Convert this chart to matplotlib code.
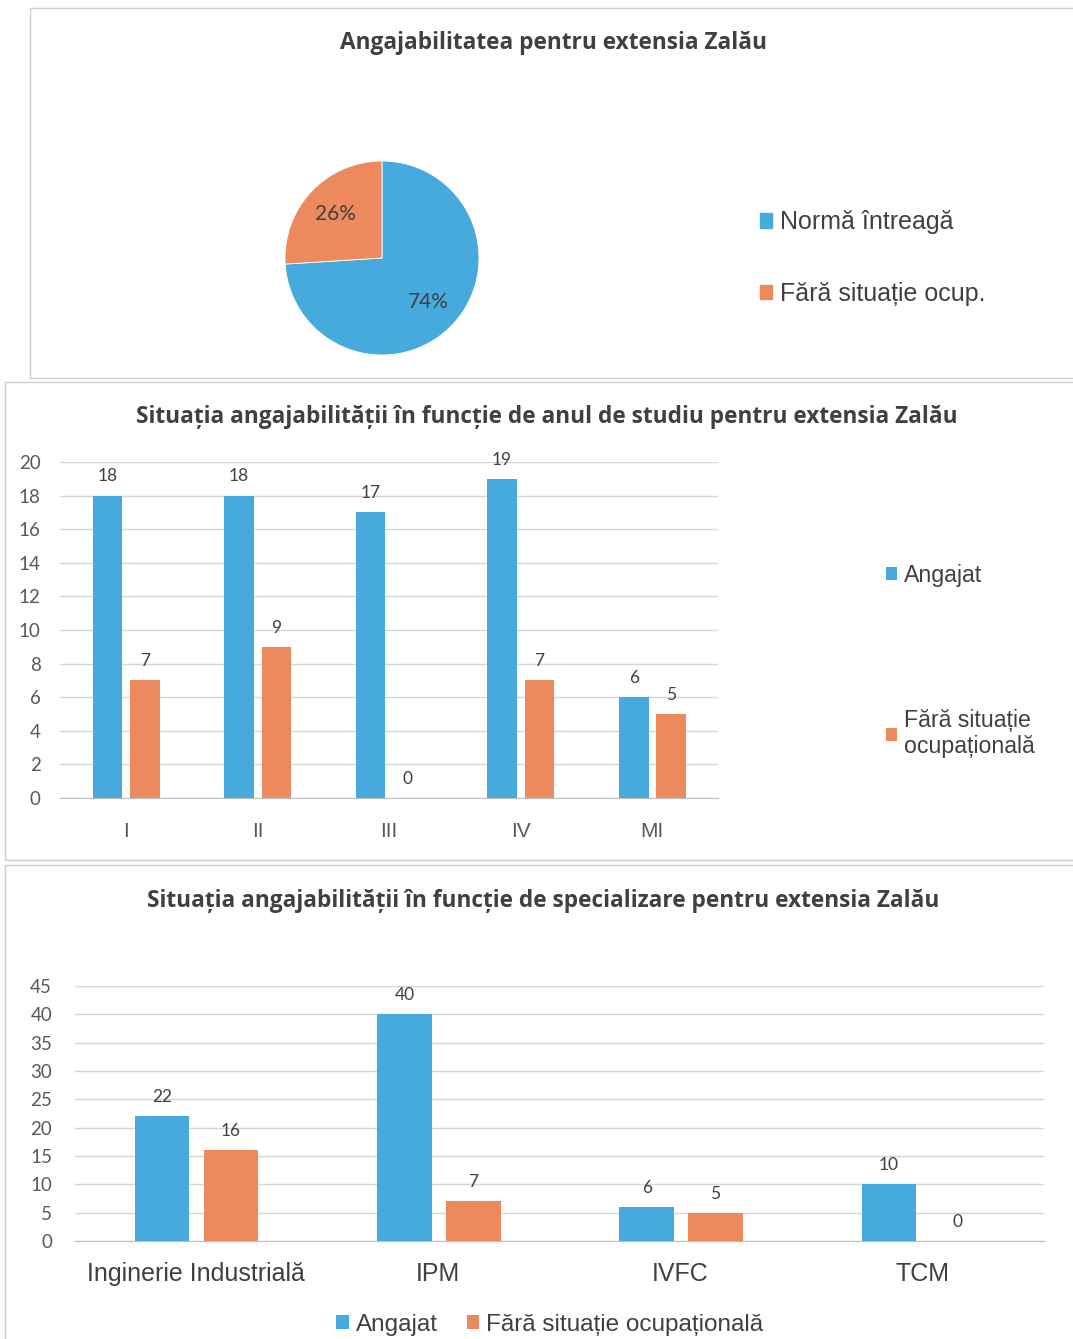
#!/usr/bin/env python
# Angajabilitate extensia Zalau: pie + two grouped bar charts
import numpy as np, matplotlib; matplotlib.use("Agg")
import matplotlib.pyplot as plt
from matplotlib.patches import Patch, Rectangle

W, H = 1073, 1339
BLUE, ORANGE = "#47AADC", "#EC8A5E"
TXT, AX = "#404040", "#595959"
GRID = "#d6d6d6"

# pie data
pie_labels = ["Normă întreagă", "Fără situație ocup."]
pie_vals = [74, 26]

# bars per year of study
years = ["I", "II", "III", "IV", "MI"]
years_ang = [18, 18, 17, 19, 6]
years_fara = [7, 9, 0, 7, 5]

# bars per specialisation
spec = ["Inginerie Industrială", "IPM", "IVFC", "TCM"]
spec_ang = [22, 40, 6, 10]
spec_fara = [16, 7, 5, 0]

series_names = ["Angajat", "Fără situație ocupațională"]


def box(l, t, r, b):
    return [l / W, 1 - b / H, (r - l) / W, (b - t) / H]


fig = plt.figure(figsize=(W / 100, H / 100), dpi=100)
fig.patch.set_facecolor("white")

# panel frames
for l, t, r, b in [(30, 8, 1080, 378), (5, 382, 1080, 860), (5, 865, 1080, 1345)]:
    fig.patches.append(Rectangle((l / W, 1 - b / H), (r - l) / W, (b - t) / H,
                                 transform=fig.transFigure, fill=False,
                                 edgecolor="#cfcfcf", lw=1))

tfont = dict(family="Open Sans", weight="bold", color=TXT)
TS = 16.3

# --- pie ---
fig.text(553 / W, 1 - 43 / H, "Angajabilitatea pentru extensia Zalău", ha="center", va="center",
         fontsize=TS, **tfont)
ax = fig.add_axes(box(285, 161, 479, 355))
wedges, _, autot = ax.pie(pie_vals, colors=[BLUE, ORANGE], startangle=90, counterclock=False,
                          autopct="%d%%", pctdistance=0.66,
                          wedgeprops=dict(edgecolor="white", linewidth=0.6))
for t in autot:
    t.set_color(TXT); t.set_fontsize(15); t.set_family("Lato")
ax.set_xlim(-1, 1); ax.set_ylim(-1, 1); ax.set_aspect("equal")
fig.legend([Patch(color=BLUE), Patch(color=ORANGE)], pie_labels,
           loc="center left", bbox_to_anchor=(737 / W, 1 - 258 / H), frameon=False,
           prop=dict(family="Liberation Sans", size=18), labelcolor=TXT,
           handlelength=0.5, handleheight=0.5, handletextpad=0.3, labelspacing=1.9)


def bars(ax, cats, a, f, ymax, step):
    x = np.arange(len(cats))
    w = 0.225
    b1 = ax.bar(x - 0.14, a, w, color=BLUE, zorder=3)
    b2 = ax.bar(x + 0.144, f, w, color=ORANGE, zorder=3)
    for bb, vals in [(b1, a), (b2, f)]:
        for r, v in zip(bb, vals):
            ax.annotate(str(v), (r.get_x() + r.get_width() / 2, v), xytext=(0, 8),
                        textcoords="offset points", ha="center", va="bottom",
                        fontsize=12.5, color=TXT, family="Lato")
    ax.set_xlim(-0.5, len(cats) - 0.5)
    ax.set_ylim(0, ymax)
    ax.set_yticks(np.arange(0, ymax + 1, step))
    ax.set_xticks(x)
    ax.set_xticklabels(cats)
    ax.grid(axis="y", color=GRID, lw=1, zorder=0)
    for s in ["top", "right", "left"]:
        ax.spines[s].set_visible(False)
    ax.spines["bottom"].set_color("#bfbfbf")
    ax.tick_params(length=0)
    for lab in ax.get_yticklabels():
        lab.set_family("Lato"); lab.set_fontsize(13.5); lab.set_color(AX)
    return b1, b2


# --- per year ---
fig.text(547 / W, 1 - 417 / H,
         "Situația angajabilității în funcție de anul de studiu pentru extensia Zalău",
         ha="center", va="center", fontsize=TS, **tfont)
ax2 = fig.add_axes(box(60, 462, 718, 798))
b1, b2 = bars(ax2, years, years_ang, years_fara, 20, 2)
ax2.tick_params(axis="y", pad=14)
ax2.tick_params(axis="x", pad=17)
for lab in ax2.get_xticklabels():
    lab.set_family("Liberation Sans"); lab.set_fontsize(15); lab.set_color(AX)
fig.legend([b1, b2], ["Angajat", "Fără situație\nocupațională"],
           loc="upper left", bbox_to_anchor=(865 / W, 1 - 543 / H), frameon=False,
           prop=dict(family="Liberation Sans", size=16.7), labelcolor=TXT,
           handlelength=0.5, handleheight=0.5, handletextpad=0.3, labelspacing=5.25)

# --- per specialisation ---
fig.text(543 / W, 1 - 901 / H,
         "Situația angajabilității în funcție de specializare pentru extensia Zalău",
         ha="center", va="center", fontsize=TS, **tfont)
ax3 = fig.add_axes(box(75, 986, 1044, 1241))
b1, b2 = bars(ax3, spec, spec_ang, spec_fara, 45, 5)
ax3.tick_params(axis="y", pad=16.5)
ax3.tick_params(axis="x", pad=15)
for lab in ax3.get_xticklabels():
    lab.set_family("Liberation Sans"); lab.set_fontsize(18); lab.set_color(TXT)
fig.legend([b1, b2], series_names, loc="center", bbox_to_anchor=(550 / W, 1 - 1325 / H),
           ncol=2, frameon=False, prop=dict(family="Liberation Sans", size=17.5), labelcolor=TXT,
           handlelength=0.5, handleheight=0.5, handletextpad=0.3, columnspacing=1.2)

fig.savefig("out.png", dpi=100, facecolor="white")
